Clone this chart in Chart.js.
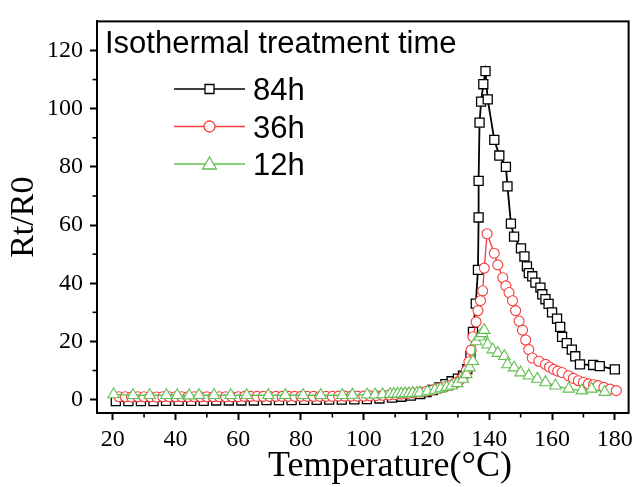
<!DOCTYPE html>
<html>
<head>
<meta charset="utf-8">
<script src="https://cdn.jsdelivr.net/npm/chart.js@4.4.0/dist/chart.umd.min.js"></script>
<style>
html, body { margin: 0; padding: 0; background: #fff; }
#wrap { width: 638px; height: 487px; }
</style>
</head>
<body>
<div id="wrap"><canvas id="chart" width="638" height="487"></canvas></div>
<script>
// axis ticks
const xTicks = [20, 40, 60, 80, 100, 120, 140, 160, 180];
const xMinor = [30, 50, 70, 90, 110, 130, 150, 170];
const yTicks = [0, 20, 40, 60, 80, 100, 120];
const yMinor = [10, 30, 50, 70, 90, 110];

const xTitle = 'Temperature(°C)';
const legendTitle = 'Isothermal treatment time';
const seriesLabels = ['84h', '36h', '12h'];

// 84h
const temp84 = [21, 25, 29, 33, 37, 41, 45, 49, 53, 57,
    61, 65, 69, 73, 77, 81, 85, 89, 93, 97,
    101, 105, 109, 112, 115, 118, 120, 122, 124, 126,
    128, 130, 131.6, 133, 134, 134.8, 135.7, 136.4, 136.6, 136.6,
    136.9, 137.4, 138.1, 138.8, 139.5, 141.6, 143.2, 145.3, 145.8, 146.9,
    147.9, 150.1, 151.2, 152, 152.6, 153.7, 154.7, 156.3, 156.9, 157.9,
    158.9, 160, 161.6, 162.6, 163.2, 164.7, 166.3, 167.4, 168.9, 173.1,
    175.2, 180];
const val84 = [-0.5, -0.5, -0.5, -0.5, -0.4, -0.4, -0.4, -0.4, -0.3, -0.3,
    -0.3, -0.3, -0.2, -0.2, -0.2, -0.1, -0.1, 0, 0, 0.1,
    0.2, 0.4, 0.7, 1.0, 1.4, 1.9, 2.6, 3.3, 4.2, 5.3,
    6.3, 7.2, 8.2, 10.5, 15, 23.3, 33, 44.6, 62.6, 75.2,
    95.2, 102.4, 108.4, 112.9, 103.2, 89.3, 83.9, 80, 73.3, 60.5,
    56, 52, 49.2, 45.8, 43.5, 42.4, 40.2, 38.5, 36.2, 34.5,
    32.9, 30, 27.8, 25, 21.6, 19.4, 17.2, 14.9, 12.1, 11.9,
    11.5, 10.4];

// 36h
const temp36 = [22, 24, 26, 28, 30, 32, 34, 36, 38, 40,
    42, 44, 46, 48, 50, 52, 54, 56, 58, 60,
    62, 64, 66, 68, 70, 72, 74, 76, 78, 80,
    82, 84, 86, 88, 90, 92, 94, 96, 98, 100,
    102, 104, 106, 108, 110, 112, 114, 116, 118, 120,
    122, 124, 126, 128,
    129.5, 130.7, 131.8, 132.7, 133.5, 134.2, 134.8, 135.8, 136.4, 137.2,
    137.9, 138.4, 139.3, 141.6, 142.7, 144.3, 145.3, 146.3, 147.4, 148.4,
    149.5, 150.6, 151.6, 152.6, 153.7, 155.8, 157.9, 159.2, 160.5, 161.8,
    163.2, 165.3, 166.8, 168.4, 170, 171.6, 173.2, 174.7, 176.5, 178.5,
    180.5];
const val36 = [1.0, 1.0, 0.9, 1.0, 1.0, 1.0, 0.9, 1.0, 1.0, 1.0,
    1.0, 1.0, 1.0, 1.0, 1.0, 1.0, 1.0, 1.0, 1.0, 1.0,
    1.1, 1.1, 1.1, 1.1, 1.1, 1.1, 1.1, 1.1, 1.1, 1.1,
    1.1, 1.1, 1.1, 1.1, 1.1, 1.2, 1.2, 1.2, 1.2, 1.2,
    1.3, 1.4, 1.5, 1.6, 1.7, 1.9, 2.1, 2.3, 2.6, 2.9,
    3.3, 3.8, 4.4, 5.1,
    5.9, 6.8, 8, 10, 13, 17, 21.6, 26.7, 30.6, 34,
    37.4, 45.2, 57, 50.3, 46.3, 41.9, 39.1, 36.8, 34, 30.6,
    27, 23.9, 20.5, 17.2, 14.3, 13.2, 12.1, 11.2, 10.4, 9.8,
    9.3, 8.2, 7.3, 6.5, 5.9, 5.4, 5.1, 4.8, 4.2, 3.6,
    3.1];

// 12h
const temp12 = [20.3, 26.5, 31.8, 37.1, 40.6, 44.4, 47.5, 52.3, 57.6, 62.7,
    69.6, 75.0, 80.7, 86.3, 93.2, 96.4, 101.1, 103.6, 106, 108.4,
    109.6, 110.8, 112, 113.2, 114.4, 115.6, 117, 117.9, 120.3, 122.7,
    124.5, 126.4, 128, 129.8, 131.6, 132.7, 133.7, 134.8, 135.8, 136.9,
    137.7, 138.4, 139.5, 141.1, 142.7, 144.8, 145.8, 147.9, 150, 152.6,
    155.3, 157.9, 161.1, 165.3, 169.5, 172.6, 176.8];
const val12 = [1.8, 1.5, 1.5, 1.5, 1.5, 1.4, 1.5, 1.5, 1.5, 1.5,
    1.5, 1.5, 1.5, 1.5, 1.5, 1.6, 1.7, 1.7, 1.8, 1.9,
    1.9, 2.0, 2.0, 2.1, 2.1, 2.2, 2.3, 2.4, 2.8, 3.3,
    3.8, 4.3, 4.8, 5.6, 7.1, 8.7, 11, 13.2, 20, 21.6,
    22.8, 23.9, 18.9, 17.2, 16, 14.9, 12.1, 11, 9.3, 8.2,
    7.1, 5.9, 4.8, 3.7, 3.1, 3.7, 2.6];

const colors = ['#000000', '#f53d3d', '#62c052'];

function pts(xs, ys) {
    return xs.map((x, i) => ({ x: x, y: ys[i] }));
}

Chart.defaults.font.family = '"Liberation Serif", "Times New Roman", serif';
Chart.defaults.color = '#000';

// top/right frame, minor ticks, x title
const frame = {
    id: 'frame',
    afterDraw(chart) {
        const { ctx, chartArea: a, scales } = chart;
        ctx.save();
        ctx.strokeStyle = '#000';
        ctx.lineWidth = 2;
        ctx.strokeRect(a.left, a.top, a.right - a.left, a.bottom - a.top);
        ctx.lineWidth = 1.6;
        xMinor.forEach(v => {
            const px = scales.x.getPixelForValue(v);
            ctx.beginPath();
            ctx.moveTo(px, a.bottom);
            ctx.lineTo(px, a.bottom + 4.5);
            ctx.stroke();
        });
        yMinor.forEach(v => {
            const py = scales.y.getPixelForValue(v);
            ctx.beginPath();
            ctx.moveTo(a.left, py);
            ctx.lineTo(a.left - 4.5, py);
            ctx.stroke();
        });
        // x title sits a bit right of the plot centre in the original
        ctx.fillStyle = '#000';
        ctx.font = '36px "Liberation Serif", "Times New Roman", serif';
        ctx.textAlign = 'center';
        ctx.textBaseline = 'middle';
        ctx.fillText(xTitle, 390, 467);
        ctx.restore();
    }
};

// legend drawn inside plot
const legendBox = {
    id: 'legendBox',
    afterDraw(chart) {
        const ctx = chart.ctx;
        ctx.save();
        ctx.font = '31px "Liberation Sans", Arial, sans-serif';
        ctx.fillStyle = '#000';
        ctx.textBaseline = 'alphabetic';
        ctx.fillText(legendTitle, 105, 53);
        seriesLabels.forEach((lab, i) => {
            const ds = chart.data.datasets[i];
            const yy = 89 + i * 37.5;
            const cx = 209.5;
            ctx.strokeStyle = ds.borderColor;
            ctx.lineWidth = 1.6;
            ctx.beginPath();
            ctx.moveTo(174, yy);
            ctx.lineTo(245, yy);
            ctx.stroke();
            ctx.fillStyle = '#fff';
            ctx.lineWidth = 1.3;
            ctx.beginPath();
            if (ds.pointStyle === 'rect') {
                ctx.rect(cx - 4.5, yy - 4.5, 9, 9);
            } else if (ds.pointStyle === 'circle') {
                ctx.arc(cx, yy, 5.5, 0, Math.PI * 2);
            } else {
                ctx.moveTo(cx, yy - 7);
                ctx.lineTo(cx + 7, yy + 5);
                ctx.lineTo(cx - 7, yy + 5);
                ctx.closePath();
            }
            ctx.fill();
            ctx.stroke();
            ctx.fillStyle = '#000';
            ctx.fillText(lab, 253, yy + 11);
        });
        ctx.restore();
    }
};

new Chart(document.getElementById('chart'), {
    type: 'line',
    data: {
        datasets: [{
            label: seriesLabels[0],
            data: pts(temp84, val84),
            borderColor: colors[0],
            borderWidth: 1.8,
            pointStyle: 'rect',
            pointRadius: 6.4,
            pointBorderWidth: 1.3,
            pointBackgroundColor: '#fff',
            pointBorderColor: colors[0],
            order: 3
        }, {
            label: seriesLabels[1],
            data: pts(temp36, val36),
            borderColor: colors[1],
            borderWidth: 1.3,
            pointStyle: 'circle',
            pointRadius: 5,
            pointBorderWidth: 1.1,
            pointBackgroundColor: '#fff',
            pointBorderColor: colors[1],
            order: 2
        }, {
            label: seriesLabels[2],
            data: pts(temp12, val12),
            borderColor: colors[2],
            borderWidth: 1.3,
            pointStyle: 'triangle',
            pointRadius: 6.6,
            pointBorderWidth: 1.1,
            pointBackgroundColor: '#fff',
            pointBorderColor: colors[2],
            order: 1
        }]
    },
    options: {
        responsive: false,
        animation: false,
        devicePixelRatio: 1,
        layout: {
            padding: { top: 13, right: 4, left: 0, bottom: 0 }
        },
        elements: {
            line: { tension: 0 }
        },
        scales: {
            x: {
                type: 'linear',
                min: 15,
                max: 184.4,
                afterBuildTicks: s => { s.ticks = xTicks.map(v => ({ value: v })); },
                afterFit: s => { s.height = 74; },
                ticks: {
                    font: { size: 24 },
                    color: '#000',
                    padding: 5,
                    maxRotation: 0,
                    autoSkip: false
                },
                grid: {
                    drawOnChartArea: false,
                    tickLength: 7,
                    tickWidth: 2,
                    tickColor: '#000'
                },
                border: { color: '#000', width: 2 }
            },
            y: {
                type: 'linear',
                min: -4.6,
                max: 130,
                afterBuildTicks: s => { s.ticks = yTicks.map(v => ({ value: v })); },
                afterFit: s => { s.width = 97; },
                ticks: {
                    font: { size: 24 },
                    color: '#000',
                    padding: 7,
                    autoSkip: false
                },
                grid: {
                    drawOnChartArea: false,
                    tickLength: 7,
                    tickWidth: 2,
                    tickColor: '#000'
                },
                border: { color: '#000', width: 2 },
                title: {
                    display: true,
                    text: 'Rt/R0',
                    font: { size: 34 },
                    color: '#000',
                    padding: { top: 4, bottom: 0 }
                }
            }
        },
        plugins: {
            legend: { display: false },
            tooltip: { enabled: false }
        }
    },
    plugins: [frame, legendBox]
});
</script>
</body>
</html>
